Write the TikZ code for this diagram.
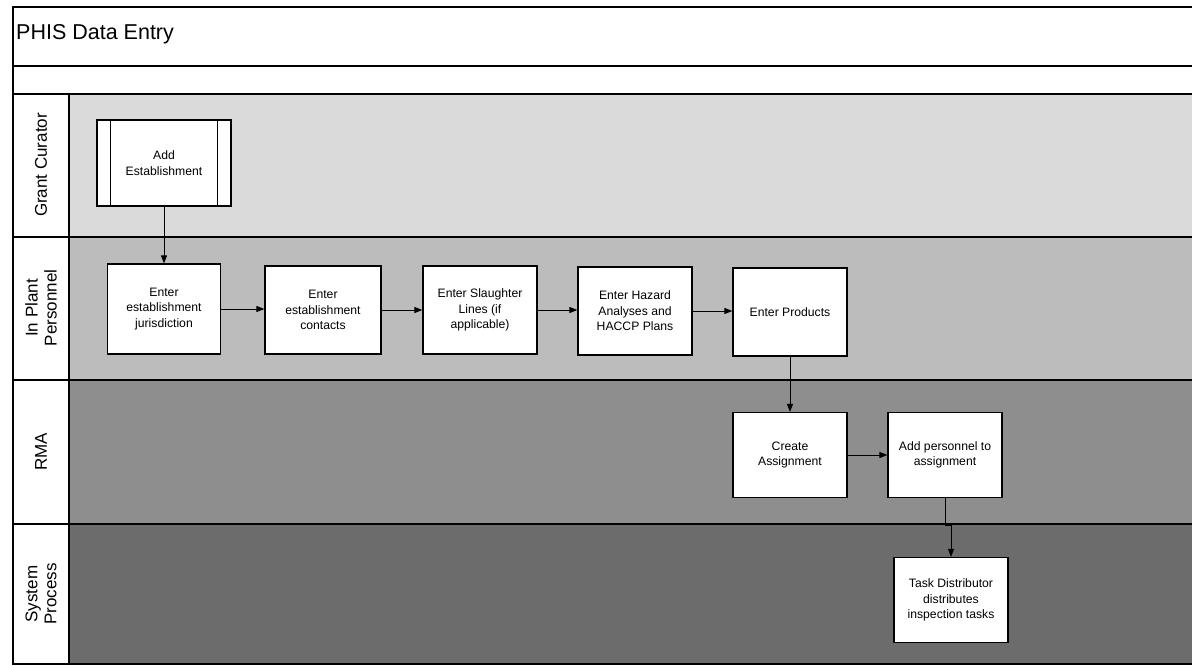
\documentclass[tikz,border=0pt]{standalone}
\usepackage{fontspec}
\setmainfont{Liberation Sans}
\usetikzlibrary{arrows.meta,calc}
\definecolor{laneA}{HTML}{DADADA}
\definecolor{laneB}{HTML}{BCBCBC}
\definecolor{laneC}{HTML}{8E8E8E}
\definecolor{laneD}{HTML}{6C6C6C}
\tikzset{
  frameline/.style={line width=1.6pt},
  laneline/.style={line width=1.2pt},
  taskbox/.style={draw, line width=1.2pt, fill=white, align=center,
    minimum width=114pt, minimum height=88pt, inner sep=2pt,
    font=\fontsize{12.2}{15.5}\selectfont},
  lanelabel/.style={rotate=90, align=center, font=\fontsize{17}{19}\selectfont},
  flow/.style={line width=0.9pt, -{Triangle[length=8pt,width=6pt]}}
}
\begin{document}
\begin{tikzpicture}[x=1pt,y=-1pt]
\useasboundingbox (0,0) rectangle (1192,666);
% lanes fills
\fill[laneA] (69,94) rectangle (1192,237);
\fill[laneB] (69,237) rectangle (1192,380);
\fill[laneC] (69,380) rectangle (1192,524);
\fill[laneD] (69,524) rectangle (1192,664);
% frame
\draw[frameline] (1192,7) -- (13,7) -- (13,664) -- (1192,664);
\draw[frameline] (13,66) -- (1192,66);
\draw[frameline] (13,94) -- (1192,94);
\draw[laneline] (13,237) -- (1192,237);
\draw[laneline] (13,380) -- (1192,380);
\draw[laneline] (13,524) -- (1192,524);
\draw[laneline] (69,94) -- (69,664);
% title
\node[anchor=west, inner sep=0pt, font=\fontsize{21.5}{24}\selectfont] (title) at (16,34) {PHIS Data Entry};
% lane labels
\node[lanelabel] (lgc) at (41,165) {Grant Curator};
\node[lanelabel] (lip) at (41,308) {In Plant\\Personnel};
\node[lanelabel] (lrm) at (41,452) {RMA};
\node[lanelabel] (lsp) at (41,594) {System\\Process};
% tasks
\node[taskbox, minimum width=134pt, minimum height=86pt] (add) at (164,163) {Add\\Establishment};
\draw[line width=1.2pt] ([xshift=14pt]add.north west) -- ([xshift=14pt]add.south west);
\draw[line width=1.2pt] ([xshift=-14pt]add.north east) -- ([xshift=-14pt]add.south east);
\node[taskbox, minimum width=113pt, minimum height=90pt] (jur) at (164,309) {Enter\\establishment\\jurisdiction};
\node[taskbox, minimum width=116pt] (con) at (323,310) {Enter\\establishment\\contacts};
\node[taskbox] (sla) at (480,310) {Enter Slaughter\\Lines (if\\applicable)};
\node[taskbox] (haz) at (635,311) {Enter Hazard\\Analyses and\\HACCP Plans};
\node[taskbox] (prod) at (790,312) {Enter Products};
\node[taskbox, minimum height=85pt] (ca) at (790,455) {Create\\Assignment};
\node[taskbox, minimum height=85pt] (ap) at (945,455) {Add personnel to\\assignment};
\node[taskbox, minimum height=85pt] (td) at (951,600) {Task Distributor\\distributes\\inspection tasks};
% connectors
\draw[flow] (add.south) -- (jur.north);
\draw[flow] (jur.east) -- (jur.east -| con.west);
\draw[flow] (con.east) -- (con.east -| sla.west);
\draw[flow] (sla.east) -- (sla.east -| haz.west);
\draw[flow] (haz.east) -- (haz.east -| prod.west);
\draw[flow] (prod.south) -- (ca.north);
\draw[flow] (ca.east) -- (ap.west);
\draw[flow] (ap.south) -- ($(ap.south)+(0,27)$) -| (td.north);
\end{tikzpicture}
\end{document}
